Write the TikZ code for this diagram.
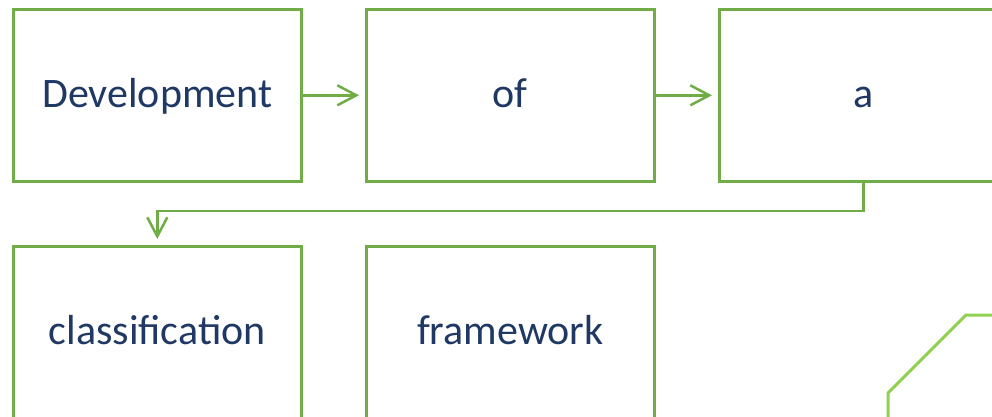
\documentclass[tikz,border=0pt]{standalone}
\usepackage{fontspec}
\setmainfont{Carlito}
\usetikzlibrary{arrows.meta}
\definecolor{boxgreen}{HTML}{70AD47}
\definecolor{lightgreen}{HTML}{92D050}
\definecolor{textblue}{HTML}{203864}
\begin{document}
\begin{tikzpicture}[x=1pt,y=-1pt,
  wordbox/.style={draw=boxgreen,line width=2.6pt,minimum width=288pt,minimum height=172pt,
    inner sep=0pt,text height=30pt,text depth=6pt,text=textblue,
    font=\fontsize{42}{48}\selectfont,anchor=north west},
  link/.style={draw=boxgreen,line width=2.5pt,
    -{Straight Barb[length=19pt,width=20pt,line width=2.5pt]},shorten >=6pt}]
\useasboundingbox (0,0) rectangle (992,417);
\clip (0,0) rectangle (992,417);
\fill[white] (0,0) rectangle (992,417);
\node[wordbox] (w1) at (12,8) {Development};
\node[wordbox] (w2) at (365,8) {of};
\node[wordbox] (w3) at (718,8) {a};
\node[wordbox] (w4) at (12,245) {classification};
\node[wordbox] (w5) at (365,245) {framework};
\draw[link] (w1.east) -- (w2.west);
\draw[link] (w2.east) -- (w3.west);
\coordinate (bend) at (0,211);
\draw[link] (w3.south) -- (w3.south |- bend) -- (w4.north |- bend) -- (w4.north);
\coordinate (deco1) at (888,420);
\coordinate (deco2) at (888,393);
\coordinate (deco3) at (966,315);
\coordinate (deco4) at (995,315);
\draw[lightgreen,line width=3pt] (deco1) -- (deco2) -- (deco3) -- (deco4);
\end{tikzpicture}
\end{document}
